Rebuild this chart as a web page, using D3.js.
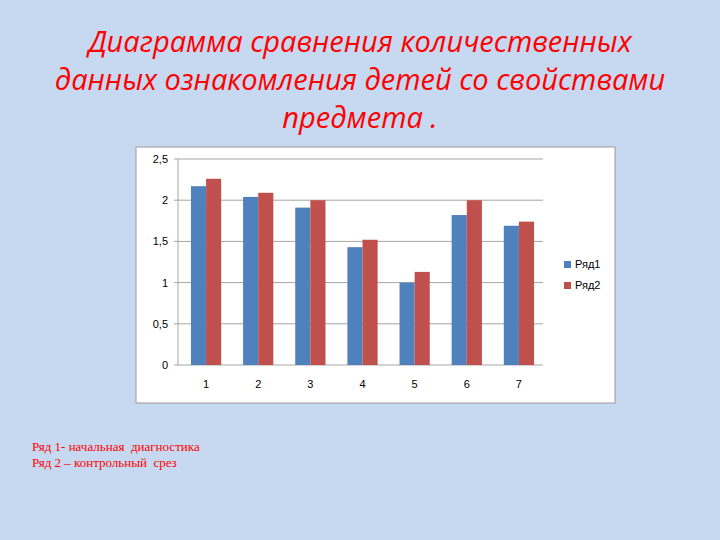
<!DOCTYPE html>
<html><head><meta charset="utf-8">
<script src="https://cdn.jsdelivr.net/npm/d3@7"></script>
<style>body{margin:0;background:#c6d9f0;}svg{display:block}</style>
</head><body>
<script>
const categories = ["1","2","3","4","5","6","7"];
const series1 = [2.17,2.04,1.91,1.43,1.0,1.82,1.69];
const series2 = [2.26,2.09,2.0,1.52,1.13,2.0,1.74];
const seriesNames = ["Ряд1","Ряд2"];
const yTicks = [0,0.5,1,1.5,2,2.5];
const yTickLabels = ["0","0,5","1","1,5","2","2,5"];
const colors = ["#4f81bd","#c0504d"];

const svg = d3.select("body").append("svg").attr("width",720).attr("height",540);
svg.append("rect").attr("width",720).attr("height",540).attr("fill","#c6d9f0");

const titleLines = ["Диаграмма сравнения количественных","данных ознакомления детей со свойствами","предмета ."];
svg.append("g").selectAll("text").data(titleLines).join("text")
  .attr("x",360).attr("y",(d,i)=>52+i*38).attr("text-anchor","middle")
  .attr("fill","#ff0000").attr("font-family","'Open Sans',sans-serif")
  .attr("font-style","italic").attr("font-size",29).text(d=>d);

svg.append("rect").attr("x",136).attr("y",147).attr("width",479).attr("height",256)
  .attr("fill","#fff").attr("stroke","#999");

const x = d3.scaleBand().domain(categories).range([180,545]).paddingInner(0.42).paddingOuter(0.21);
const y = d3.scaleLinear().domain([0,2.5]).range([365,159]);

const g = svg.append("g");
g.selectAll(".grid").data(yTicks).join("line")
  .attr("x1",178).attr("x2",543).attr("y1",d=>y(d)).attr("y2",d=>y(d))
  .attr("stroke","#a6a6a6").attr("stroke-width",1);
g.append("line").attr("x1",178).attr("x2",178).attr("y1",159).attr("y2",365).attr("stroke","#a6a6a6");
g.selectAll(".yl").data(yTicks).join("text")
  .attr("x",168).attr("y",d=>y(d)+4).attr("text-anchor","end")
  .attr("font-family","Arial,'Liberation Sans',sans-serif").attr("font-size",11)
  .text((d,i)=>yTickLabels[i]);
g.selectAll(".yt").data(yTicks).join("line")
  .attr("x1",174).attr("x2",178).attr("y1",d=>y(d)).attr("y2",d=>y(d)).attr("stroke","#a6a6a6");
g.selectAll(".xl").data(categories).join("text")
  .attr("x",d=>x(d)+x.bandwidth()/2).attr("y",388).attr("text-anchor","middle")
  .attr("font-family","Arial,'Liberation Sans',sans-serif").attr("font-size",11).text(d=>d);

const bw = x.bandwidth()/2;
[series1,series2].forEach((s,k)=>{
  g.selectAll(".b"+k).data(s).join("rect")
    .attr("x",(d,i)=>x(categories[i])+k*bw).attr("width",bw)
    .attr("y",d=>y(d)).attr("height",d=>y(0)-y(d)).attr("fill",colors[k]);
});

const lg = svg.append("g");
seriesNames.forEach((n,k)=>{
  lg.append("rect").attr("x",564).attr("y",261+k*21).attr("width",7).attr("height",7).attr("fill",colors[k]);
  lg.append("text").attr("x",575).attr("y",268+k*21).attr("font-family","Arial,'Liberation Sans',sans-serif")
    .attr("font-size",11).text(n);
});

const notes = ["Ряд 1- начальная  диагностика","Ряд 2 – контрольный  срез"];
svg.append("g").selectAll("text").data(notes).join("text")
  .attr("x",32).attr("y",(d,i)=>451+i*16).attr("fill","#ff0000")
  .style("white-space","pre").attr("xml:space","preserve")
  .attr("font-family","'Liberation Serif','Times New Roman',serif").attr("font-size",13).text(d=>d);
</script>
</body></html>
